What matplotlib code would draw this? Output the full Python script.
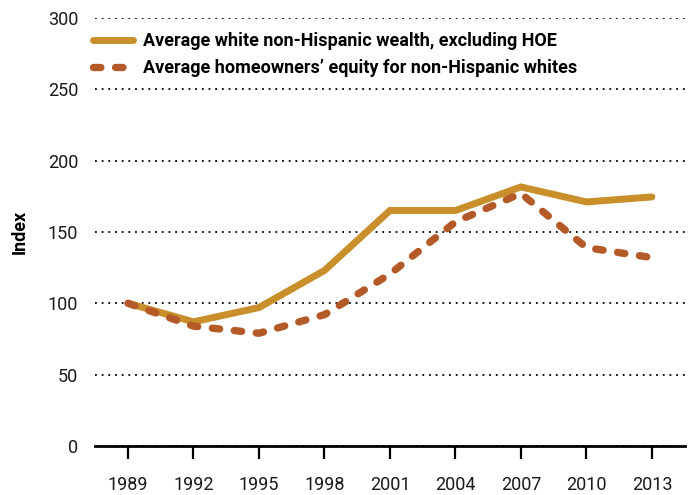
import matplotlib.pyplot as plt

years = [1989, 1992, 1995, 1998, 2001, 2004, 2007, 2010, 2013]
wealth_ex_hoe = [100, 87, 97, 123, 165, 165, 181.5, 171, 174.5]
hoe = [100, 84, 79, 92, 120.5, 157, 177, 139, 132]

label_wealth = 'Average white non-Hispanic wealth, excluding HOE'
label_hoe = 'Average homeowners\u2019 equity for non-Hispanic whites'

plt.rcParams['font.family'] = ['Roboto', 'DejaVu Sans']

fig = plt.figure(figsize=(6.92, 4.95), dpi=100)
ax = fig.add_axes([0.137, 0.099, 0.853, 0.865])

# solid line, round ends
ax.plot(years, wealth_ex_hoe, color='#C98F2B', lw=5, solid_capstyle='round',
        solid_joinstyle='miter', label=label_wealth)
# short rounded dashes
ax.plot(years, hoe, color='#B35A28', lw=5.3, linestyle=(0, (1.0, 2.0)),
        dash_capstyle='round', label=label_hoe)

ax.set_xlim(1987.48, 2014.52)
ax.set_ylim(0, 300)
ax.set_xticks(years)
ax.set_yticks(range(0, 301, 50))
ax.yaxis.grid(True, color='black', linestyle=(0, (1, 2.7)), lw=1.3)
ax.set_axisbelow(True)

for s in ['top', 'right', 'left']:
    ax.spines[s].set_visible(False)
ax.spines['bottom'].set_linewidth(2)
ax.tick_params(axis='x', direction='out', length=9.5, width=1.6, pad=12,
               labelsize=13, labelcolor='#1a1a1a')
ax.tick_params(axis='y', length=0, pad=12, labelsize=13, labelcolor='#1a1a1a')

ax.set_ylabel('Index', fontsize=13, fontweight='bold', labelpad=14)

leg = ax.legend(loc='upper left', bbox_to_anchor=(-0.03, 1.005), frameon=False,
                prop={'size': 13, 'weight': 'bold'}, handlelength=2.2,
                handletextpad=0.55, labelspacing=0.5)

fig.savefig('out.png', dpi=100)
